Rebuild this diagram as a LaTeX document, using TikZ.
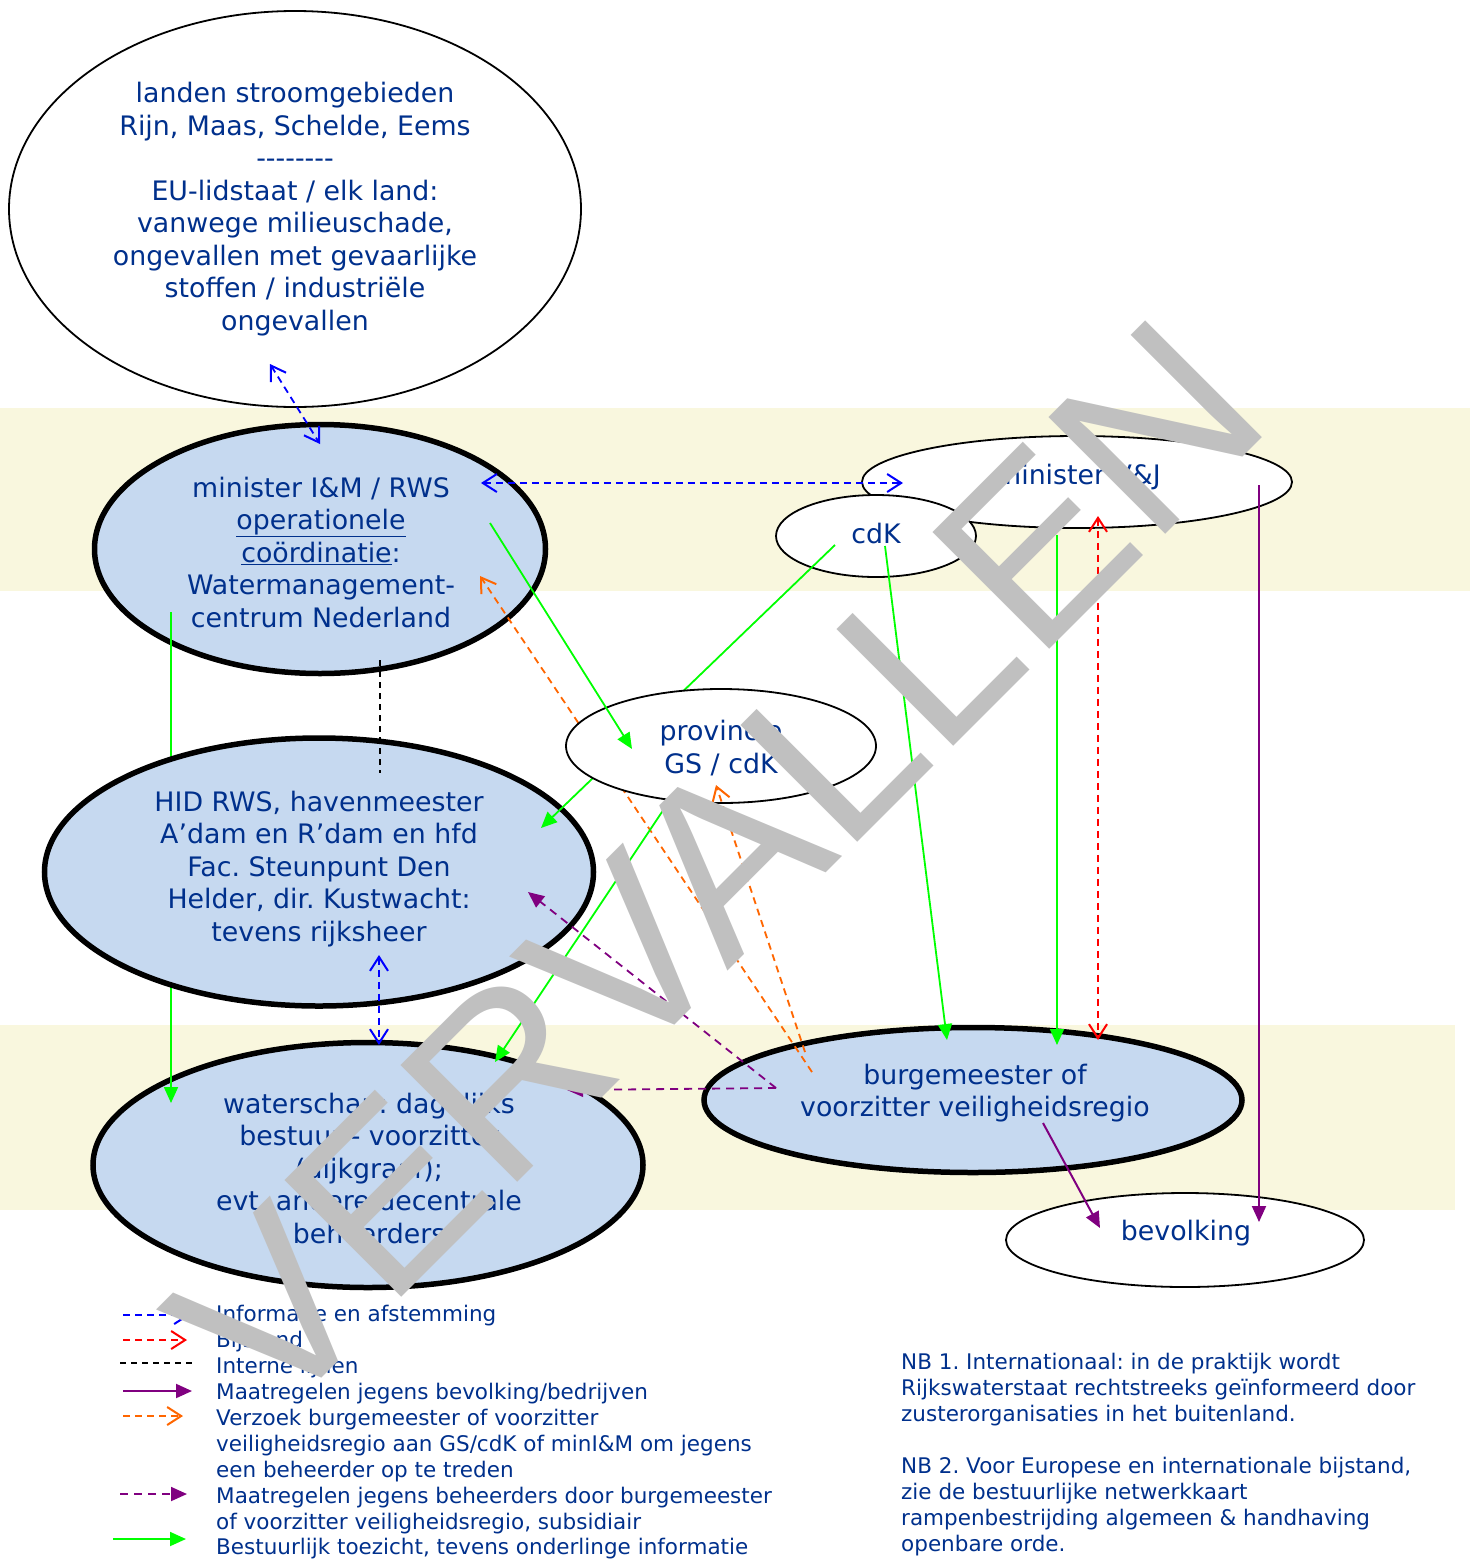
\documentclass[tikz,border=0pt]{standalone}
\usepackage{fontspec}
\setmainfont{DejaVu Sans}
\newfontfamily\stampfont{Liberation Sans}
\usetikzlibrary{shapes.geometric,arrows.meta}

\definecolor{txtblue}{RGB}{0,48,140}
\definecolor{ellblue}{RGB}{198,217,240}
\definecolor{bandyel}{RGB}{249,247,222}
\definecolor{reqorange}{RGB}{255,102,0}
\definecolor{measpurple}{RGB}{128,0,128}
\definecolor{supgreen}{RGB}{0,255,0}
\definecolor{stampgray}{RGB}{192,192,192}

\newcommand\mainsize{\fontsize{26.8}{32.5}\selectfont}
\newcommand\legsize{\fontsize{21.5}{26}\selectfont}

\tikzset{
  opentip/.tip={Straight Barb[length=14pt,width=18pt,line width=2pt]},
  fulltip/.tip={Triangle[length=16pt,width=14pt]},
}
\frenchspacing

\begin{document}
\begin{tikzpicture}[x=1pt,y=-1pt,
    thinell/.style={ellipse,draw,line width=1.8pt,fill=white,inner sep=0pt},
    thickell/.style={ellipse,draw,line width=5.5pt,fill=ellblue,inner sep=0pt},
    lbl/.style={text=txtblue,align=center,font=\mainsize,inner sep=0pt},
    legtxt/.style={text=txtblue,align=left,font=\legsize,inner sep=0pt,anchor=west},
    infoarr/.style={blue,line width=1.8pt,dash pattern=on 7pt off 5pt},
    helparr/.style={red,line width=1.8pt,dash pattern=on 7pt off 5pt},
    intline/.style={black,line width=1.8pt,dash pattern=on 6pt off 5pt},
    popmeas/.style={measpurple,line width=2pt,arrows={-fulltip}},
    reqarr/.style={reqorange,line width=1.8pt,dash pattern=on 7pt off 5pt,arrows={-opentip}},
    mgmtarr/.style={measpurple,line width=1.8pt,dash pattern=on 8pt off 6pt,arrows={-fulltip}},
    supvarr/.style={supgreen,line width=1.8pt,arrows={-fulltip}}]

\useasboundingbox (0,0) rectangle (1472,1559);

% banden
\fill[bandyel] (0,408) rectangle (1470,591);
\fill[bandyel] (0,1025) rectangle (1455,1210);

% ellipsen
\node[thinell,minimum width=572pt,minimum height=396pt] (landen) at (295,209) {};
\node[thickell,minimum width=451pt,minimum height=249pt] (mim) at (320,549) {};
\node[thickell,minimum width=550pt,minimum height=245pt] (wsc) at (368,1165) {};

\coordinate (mimE) at (171,612);
\coordinate (wscC) at (171,1103);
\draw[supvarr] (mimE) -- (wscC);

\node[thickell,minimum width=549pt,minimum height=268pt] (hid) at (319,872) {};
\node[thinell,minimum width=430pt,minimum height=92pt] (mvj) at (1077,482) {};
\node[thinell,minimum width=200pt,minimum height=82pt] (cdk) at (876,536) {};
\node[thickell,minimum width=538pt,minimum height=145pt] (burg) at (973,1100) {};
\node[thinell,minimum width=358pt,minimum height=94pt] (bev) at (1185,1240) {};

% lijnen achter de provincie
\coordinate (cdkA) at (835,545);
\coordinate (hidD) at (541,828);
\coordinate (burgB) at (812,1072);
\coordinate (mimD) at (480,576);
\coordinate (provC) at (670,800);
\coordinate (wscD) at (495,1062);
\draw[supvarr] (cdkA) -- (hidD);
\draw[reqarr] (burgB) -- (mimD);
\draw[supvarr] (provC) -- (wscD);

\node[thinell,minimum width=310pt,minimum height=114pt] (prov) at (721,746) {};

% teksten
\node[lbl] (landentxt) at (295,209) {landen stroomgebieden\\Rijn, Maas, Schelde, Eems\\-{}-{}-{}-{}-{}-{}-{}-\\EU-lidstaat / elk land:\\vanwege milieuschade,\\ongevallen met gevaarlijke\\stoffen / industriële\\ongevallen};
\node[lbl] (mimtxt) at (321,552) {minister I\&M / RWS\\\underline{operationele}\\\underline{coördinatie}:\\Watermanagement-\\centrum Nederland};
\node[lbl] (hidtxt) at (319,869) {HID RWS, havenmeester\\A’dam en R’dam en hfd\\Fac. Steunpunt Den\\Helder, dir. Kustwacht:\\tevens rijksheer};
\node[lbl] (wsctxt) at (369,1168) {waterschap: dagelijks\\bestuur - voorzitter\\(dijkgraaf);\\evt. andere decentrale\\beheerders};
\node[lbl] (mvjtxt) at (1078,477) {minister V\&J};
\node[lbl] (cdktxt) at (876,533) {cdK};
\node[lbl] (provtxt) at (721,748) {provincie\\GS / cdK};
\node[lbl] (burgtxt) at (975,1093) {burgemeester of\\voorzitter veiligheidsregio};
\node[lbl] (bevtxt) at (1186,1233) {bevolking};

% verbindingen
\coordinate (lanA) at (270,364);
\coordinate (mimA) at (320,444);
\coordinate (mimB) at (481,483);
\coordinate (mvjA) at (903,483);
\coordinate (hidA) at (379,955);
\coordinate (wscA) at (379,1045);
\coordinate (mimC) at (380,660);
\coordinate (hidB) at (380,773);
\coordinate (mvjB) at (1098,516);
\coordinate (burgA) at (1098,1040);
\coordinate (burgC) at (805,1052);
\coordinate (provA) at (716,785);
\coordinate (burgD) at (776,1088);
\coordinate (hidC) at (528,892);
\coordinate (wscB) at (567,1090);
\coordinate (mimF) at (490,523);
\coordinate (provB) at (632,749);
\coordinate (cdkB) at (885,546);
\coordinate (burgE) at (947,1040);
\coordinate (mvjC) at (1057,535);
\coordinate (burgF) at (1057,1045);
\coordinate (mvjD) at (1259,485);
\coordinate (bevA) at (1259,1222);
\coordinate (burgG) at (1043,1123);
\coordinate (bevB) at (1100,1228);

\draw[infoarr,arrows={opentip-opentip}] (lanA) -- (mimA);
\draw[infoarr,arrows={opentip-opentip}] (mimB) -- (mvjA);
\draw[infoarr,arrows={opentip-opentip}] (hidA) -- (wscA);
\draw[intline] (mimC) -- (hidB);
\draw[helparr,arrows={opentip-opentip}] (mvjB) -- (burgA);
\draw[reqarr] (burgC) -- (provA);
\draw[mgmtarr] (burgD) -- (hidC);
\draw[mgmtarr] (burgD) -- (wscB);
\draw[supvarr] (mimF) -- (provB);
\draw[supvarr] (cdkB) -- (burgE);
\draw[supvarr] (mvjC) -- (burgF);
\draw[popmeas] (mvjD) -- (bevA);
\draw[popmeas] (burgG) -- (bevB);

% legenda
\coordinate (lgInfoA) at (123,1315);
\coordinate (lgInfoB) at (190,1315);
\coordinate (lgHelpA) at (123,1340);
\coordinate (lgHelpB) at (187,1340);
\coordinate (lgIntA) at (120,1363);
\coordinate (lgIntB) at (195,1363);
\coordinate (lgPopA) at (123,1391);
\coordinate (lgPopB) at (192,1391);
\coordinate (lgReqA) at (123,1416);
\coordinate (lgReqB) at (183,1416);
\coordinate (lgMgmtA) at (120,1494);
\coordinate (lgMgmtB) at (187,1494);
\coordinate (lgSupA) at (113,1539);
\coordinate (lgSupB) at (186,1539);

\draw[infoarr,arrows={-opentip}] (lgInfoA) -- (lgInfoB);
\draw[helparr,arrows={-opentip}] (lgHelpA) -- (lgHelpB);
\draw[intline] (lgIntA) -- (lgIntB);
\draw[popmeas] (lgPopA) -- (lgPopB);
\draw[reqarr] (lgReqA) -- (lgReqB);
\draw[mgmtarr] (lgMgmtA) -- (lgMgmtB);
\draw[supvarr] (lgSupA) -- (lgSupB);

\node[legtxt] (lginfo) at (216,1316) {Informatie en afstemming};
\node[legtxt] (lghelp) at (216,1342) {Bijstand};
\node[legtxt] (lgint) at (216,1368) {Interne lijnen};
\node[legtxt] (lgpop) at (216,1394) {Maatregelen jegens bevolking/bedrijven};
\node[legtxt] (lgreq) at (216,1446) {Verzoek burgemeester of voorzitter\\veiligheidsregio aan GS/cdK of minI\&M om jegens\\een beheerder op te treden};
\node[legtxt] (lgmgmt) at (216,1511) {Maatregelen jegens beheerders door burgemeester\\of voorzitter veiligheidsregio, subsidiair};
\node[legtxt] (lgsup) at (216,1549) {Bestuurlijk toezicht, tevens onderlinge informatie};

\node[legtxt] (nbtxt) at (901,1455) {NB 1. Internationaal: in de praktijk wordt\\Rijkswaterstaat rechtstreeks geïnformeerd door\\zusterorganisaties in het buitenland.\\[26pt]NB 2. Voor Europese en internationale bijstand,\\zie de bestuurlijke netwerkkaart\\rampenbestrijding algemeen \& handhaving\\openbare orde.};

% stempel
\node[rotate=45,xscale=1.02,text=stampgray,font=\stampfont\fontsize{240}{240}\selectfont,inner sep=0pt] (stamp) at (716,867) {VERVALLEN};
\end{tikzpicture}
\end{document}
